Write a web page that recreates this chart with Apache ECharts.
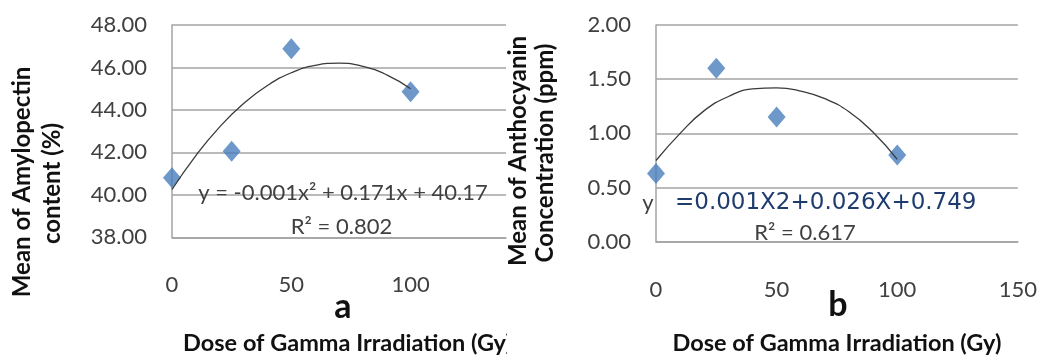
<!DOCTYPE html>
<html>
<head>
<meta charset="utf-8">
<script src="https://cdn.jsdelivr.net/npm/echarts@6/dist/echarts.min.js"></script>
<style>
html,body{margin:0;padding:0;background:#fff;}
#c{width:1040px;height:360px;}
</style>
</head>
<body>
<div id="c"></div>
<script>
// ---- data ----
const doseA = [0, 25, 50, 100];
const amylopectin = [40.8, 42.05, 46.88, 44.85];
const doseB = [0, 25, 50, 100];
const anthocyanin = [0.63, 1.60, 1.15, 0.80];
const trendX = [0, 10, 20, 30, 40, 50, 60, 70, 80, 90, 100];
const trendA = [40.25, 41.85, 43.2, 44.3, 45.15, 45.75, 46.1, 46.2, 46.05, 45.65, 45.0];
const trendB = [0.75, 1.0, 1.21, 1.34, 1.41, 1.42, 1.39, 1.32, 1.2, 1.01, 0.76];
const yTitleA = ['Mean of Amylopectin', 'content (%)'];
const yTitleB = ['Mean of Anthocyanin', 'Concentration (ppm)'];
const xTitle = 'Dose of Gamma Irradiation (Gy)';
const eqA = 'y = -0.001x² + 0.171x + 40.17';
const r2A = 'R² = 0.802';
const eqB = '=0.001X2+0.026X+0.749';
const r2B = 'R² = 0.617';

const FONT = 'Lato';
const GRID = '#a3a3a3';
const TXT = '#404040';
const BLUE = '#4a7ebb';

function pairs(xs, ys){ return xs.map((x,i)=>[x, ys[i]]); }

const chart = echarts.init(document.getElementById('c'), null, {renderer:'canvas'});

function xAxis(idx, max, padLeft){
  return {
    type:'value', gridIndex: idx, min:0, max:max, interval:50,
    axisLine:{show:true, lineStyle:{color:GRID, width:1.5}},
    axisTick:{show:false},
    splitLine:{show:false},
    axisLabel:{color:TXT, fontFamily:FONT, fontSize:22, lineHeight:22, margin:37,
      formatter: v => (v % 50 === 0 ? String(v) : '')},
    name: xTitle, nameLocation:'middle', nameGap: idx===0 ? 94 : 89.5,
    nameTextStyle:{color:'#111', fontFamily:FONT, fontWeight:'bold', fontSize:23.5, lineHeight:23.5,
      padding:[0,0,0,padLeft]}
  };
}
function yAxis(idx, min, max, interval, dec){
  return {
    type:'value', gridIndex: idx, min:min, max:max, interval:interval,
    axisLine:{show:true, lineStyle:{color:GRID, width:1.5}},
    axisTick:{show:false},
    splitLine:{show:true, lineStyle:{color:GRID, width:1.5}},
    axisLabel:{color:TXT, fontFamily:FONT, fontSize:22, margin:25,
      formatter: v => v.toFixed(dec)}
  };
}

const option = {
  backgroundColor:'#fff',
  animation:false,
  grid:[
    {left:172, top:25, width:334, height:217},
    {left:656, top:25, width:363, height:221.5}
  ],
  xAxis:[ xAxis(0, 140, 17), xAxis(1, 150, 0) ],
  yAxis:[ yAxis(0, 38, 48, 2, 2), yAxis(1, 0, 2, 0.5, 2) ],
  series:[
    {type:'scatter', xAxisIndex:0, yAxisIndex:0, data: pairs(doseA, amylopectin),
      symbol:'diamond', symbolSize:[18,21], itemStyle:{color:BLUE}, z:2},
    {type:'line', xAxisIndex:0, yAxisIndex:0, data: pairs(trendX, trendA),
      smooth:true, showSymbol:false, lineStyle:{color:'#3a3a3a', width:1.3}, z:3},
    {type:'scatter', xAxisIndex:1, yAxisIndex:1, data: pairs(doseB, anthocyanin),
      symbol:'diamond', symbolSize:[18,21], itemStyle:{color:BLUE}, z:2},
    {type:'line', xAxisIndex:1, yAxisIndex:1, data: pairs(trendX, trendB),
      smooth:true, showSymbol:false, lineStyle:{color:'#3a3a3a', width:1.3}, z:3}
  ],
  graphic:[
    // clip the end of the left x title like the reference
    {type:'rect', z:100, shape:{x:507, y:328, width:14, height:32}, style:{fill:'#fff'}},
    // white box behind blue equation (covers 0.50 gridline)
    {type:'rect', z:100, shape:{x:661, y:189, width:326, height:28}, style:{fill:'#fff'}},
    // y titles
    {type:'text', z:101, x:22.5, y:182, rotation:Math.PI/2,
      style:{text:yTitleA[0], fill:'#111', font:'bold 24px '+FONT, align:'center', verticalAlign:'middle'}},
    {type:'text', z:101, x:52, y:183.5, rotation:Math.PI/2,
      style:{text:yTitleA[1], fill:'#111', font:'bold 24px '+FONT, align:'center', verticalAlign:'middle'}},
    {type:'text', z:101, x:518, y:151, rotation:Math.PI/2,
      style:{text:yTitleB[0], fill:'#111', font:'bold 24px '+FONT, align:'center', verticalAlign:'middle'}},
    {type:'text', z:101, x:545, y:153, rotation:Math.PI/2,
      style:{text:yTitleB[1], fill:'#111', font:'bold 24px '+FONT, align:'center', verticalAlign:'middle'}},
    // panel letters
    {type:'text', z:101, x:343, y:307, style:{text:'a', fill:'#111', font:'bold 34px '+FONT, align:'center', verticalAlign:'middle'}},
    {type:'text', z:101, x:838, y:305, style:{text:'b', fill:'#111', font:'bold 34px '+FONT, align:'center', verticalAlign:'middle'}},
    // equations
    {type:'text', z:101, x:343, y:193, style:{text:eqA, fill:TXT, font:'22px '+FONT, align:'center', verticalAlign:'middle'}},
    {type:'text', z:101, x:341.5, y:227, style:{text:r2A, fill:TXT, font:'22px '+FONT, align:'center', verticalAlign:'middle'}},
    {type:'text', z:101, x:648, y:203, style:{text:'y', fill:TXT, font:'22px '+FONT, align:'center', verticalAlign:'middle'}},
    {type:'text', z:101, x:675, y:203, style:{text:eqB, fill:'#1f3c6e', font:'23px "DejaVu Sans"', align:'left', verticalAlign:'middle'}},
    {type:'text', z:101, x:805, y:233, style:{text:r2B, fill:TXT, font:'22px '+FONT, align:'center', verticalAlign:'middle'}}
  ]
};
chart.setOption(option);
</script>
</body>
</html>
